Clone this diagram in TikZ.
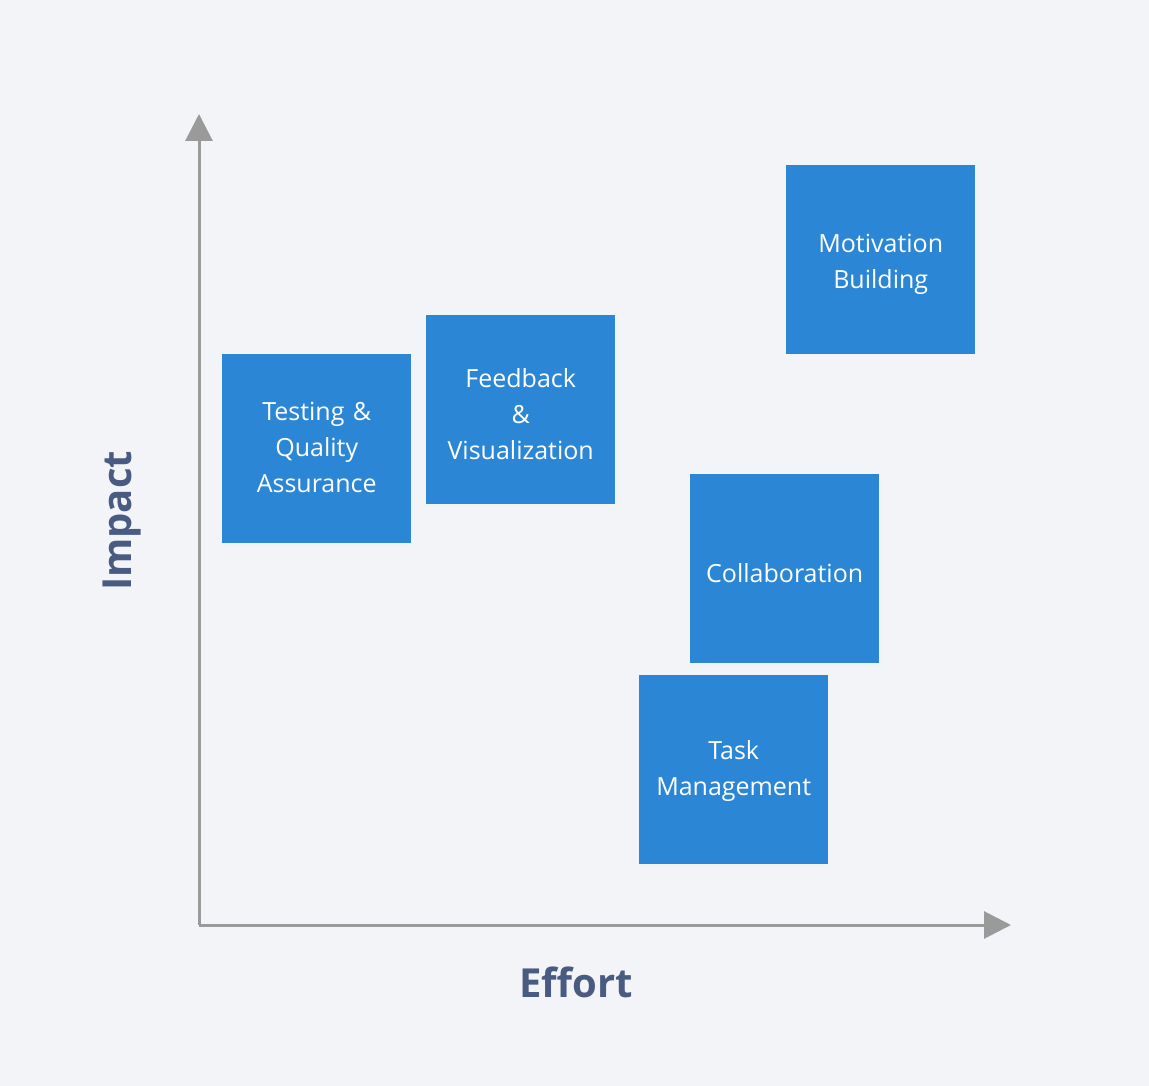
\documentclass[tikz,border=0pt]{standalone}
\usepackage{fontspec}
\setmainfont{Open Sans}
\usetikzlibrary{arrows.meta}
\definecolor{bg}{HTML}{F2F4F8}
\definecolor{boxblue}{HTML}{2B87D6}
\definecolor{axisgray}{HTML}{9A9A9A}
\definecolor{labelc}{HTML}{4A5B82}
\begin{document}
\begin{tikzpicture}[x=1pt,y=-1pt,
  card/.style={fill=boxblue,draw=none,minimum width=189pt,minimum height=189pt,inner sep=0pt,anchor=north west},
  cardtext/.style={text=white,font=\fontsize{25}{36}\selectfont,align=center,text width=185pt,inner sep=0pt},
  axislabel/.style={text=labelc,font=\fontsize{40}{48}\selectfont\bfseries},
  axisline/.style={draw=axisgray,line width=3pt,-{Triangle[width=27pt,length=27pt]}}]
\fill[bg] (0,0) rectangle (1149,1086);
\useasboundingbox (0,0) rectangle (1149,1086);
\coordinate (o) at (199,925);
\coordinate (ytip) at (199,114);
\coordinate (xtip) at (1011,925);
\draw[axisline] (o) -- (ytip);
\draw[axisline] (o) -- (xtip);
\node[card] (testing) at (222,354) {};
\node[card] (feedback) at (426,315) {};
\node[card] (motivation) at (786,165) {};
\node[card] (collab) at (690,474) {};
\node[card] (task) at (639,675) {};
\node[cardtext] (testingt) at ([yshift=1pt]testing.center) {Testing \&\\Quality\\Assurance};
\node[cardtext] (feedbackt) at ([yshift=-4pt]feedback.center) {Feedback\\\&\\Visualization};
\node[cardtext] (motivationt) at ([yshift=-5pt]motivation.center) {Motivation\\Building};
\node[cardtext] (collabt) at ([yshift=-4pt]collab.center) {Collaboration};
\node[cardtext] (taskt) at ([yshift=-1pt]task.center) {Task\\Management};
\node[axislabel] (effort) at (576,982) {Effort};
\node[axislabel,rotate=90] (impact) at (122,521) {Impact};
\end{tikzpicture}
\end{document}
